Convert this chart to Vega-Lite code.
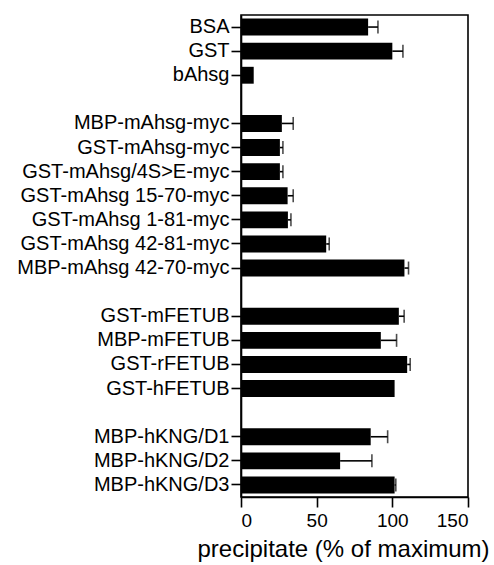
{
  "$schema": "https://vega.github.io/schema/vega-lite/v6.json",
  "autosize": "none",
  "width": 227,
  "height": 482,
  "padding": {"left": 241, "top": 15, "right": 26, "bottom": 68},
  "data": {
    "values": [
      {"protein": "BSA", "value": 84, "err": 6.5},
      {"protein": "GST", "value": 100, "err": 7},
      {"protein": "bAhsg", "value": 8.4, "err": 0},
      {"protein": "MBP-mAhsg-myc", "value": 27, "err": 7.5},
      {"protein": "GST-mAhsg-myc", "value": 25.7, "err": 2},
      {"protein": "GST-mAhsg/4S>E-myc", "value": 25.7, "err": 2},
      {"protein": "GST-mAhsg 15-70-myc", "value": 30.8, "err": 3.7},
      {"protein": "GST-mAhsg 1-81-myc", "value": 31, "err": 2},
      {"protein": "GST-mAhsg 42-81-myc", "value": 56.3, "err": 2},
      {"protein": "MBP-mAhsg 42-70-myc", "value": 108, "err": 2.7},
      {"protein": "GST-mFETUB", "value": 104.3, "err": 3.5},
      {"protein": "MBP-mFETUB", "value": 92.4, "err": 10.4},
      {"protein": "GST-rFETUB", "value": 109.8, "err": 2},
      {"protein": "GST-hFETUB", "value": 101.5, "err": 0},
      {"protein": "MBP-hKNG/D1", "value": 85.7, "err": 11.2},
      {"protein": "MBP-hKNG/D2", "value": 65.5, "err": 21},
      {"protein": "MBP-hKNG/D3", "value": 101.5, "err": 0.8}
    ]
  },
  "transform": [{"calculate": "datum.value + datum.err", "as": "hi"}],
  "encoding": {
    "y": {
      "field": "protein",
      "type": "nominal",
      "title": null,
      "scale": {
        "domain": ["BSA", "GST", "bAhsg", "gap1", "MBP-mAhsg-myc", "GST-mAhsg-myc", "GST-mAhsg/4S>E-myc", "GST-mAhsg 15-70-myc", "GST-mAhsg 1-81-myc", "GST-mAhsg 42-81-myc", "MBP-mAhsg 42-70-myc", "gap2", "GST-mFETUB", "MBP-mFETUB", "GST-rFETUB", "GST-hFETUB", "gap3", "MBP-hKNG/D1", "MBP-hKNG/D2", "MBP-hKNG/D3"],
        "paddingInner": 0.3,
        "paddingOuter": 0.15
      },
      "axis": {
        "values": ["BSA", "GST", "bAhsg", "MBP-mAhsg-myc", "GST-mAhsg-myc", "GST-mAhsg/4S>E-myc", "GST-mAhsg 15-70-myc", "GST-mAhsg 1-81-myc", "GST-mAhsg 42-81-myc", "MBP-mAhsg 42-70-myc", "GST-mFETUB", "MBP-mFETUB", "GST-rFETUB", "GST-hFETUB", "MBP-hKNG/D1", "MBP-hKNG/D2", "MBP-hKNG/D3"],
        "labelFontSize": 20,
        "labelLimit": 0,
        "tickSize": 10,
        "labelPadding": 2
      }
    }
  },
  "layer": [
    {
      "mark": {"type": "bar", "color": "black"},
      "encoding": {
        "x": {
          "field": "value",
          "type": "quantitative",
          "title": "precipitate (% of maximum)",
          "scale": {"domain": [0, 150], "nice": false},
          "axis": {"values": [0, 50, 100, 150], "labelFontSize": 19, "titleFontSize": 24, "titleX": 102, "tickSize": 10, "labelPadding": 4, "titlePadding": 7}
        }
      }
    },
    {
      "transform": [{"filter": "datum.err > 0"}],
      "mark": {"type": "rule", "color": "black", "strokeWidth": 1.6},
      "encoding": {
        "x": {"field": "value", "type": "quantitative"},
        "x2": {"field": "hi"}
      }
    },
    {
      "transform": [{"filter": "datum.err > 0"}],
      "mark": {"type": "tick", "color": "black", "orient": "vertical", "thickness": 1.6, "size": 13},
      "encoding": {
        "x": {"field": "hi", "type": "quantitative"}
      }
    }
  ],
  "config": {
    "font": "Liberation Sans",
    "view": {"stroke": "black", "strokeWidth": 1.6},
    "axis": {
      "grid": false,
      "domainColor": "black",
      "domainWidth": 1.6,
      "tickColor": "black",
      "tickWidth": 1.6,
      "labelColor": "black",
      "titleColor": "black",
      "titleFontWeight": "normal",
      "labelFont": "Liberation Sans",
      "titleFont": "Liberation Sans"
    }
  }
}
